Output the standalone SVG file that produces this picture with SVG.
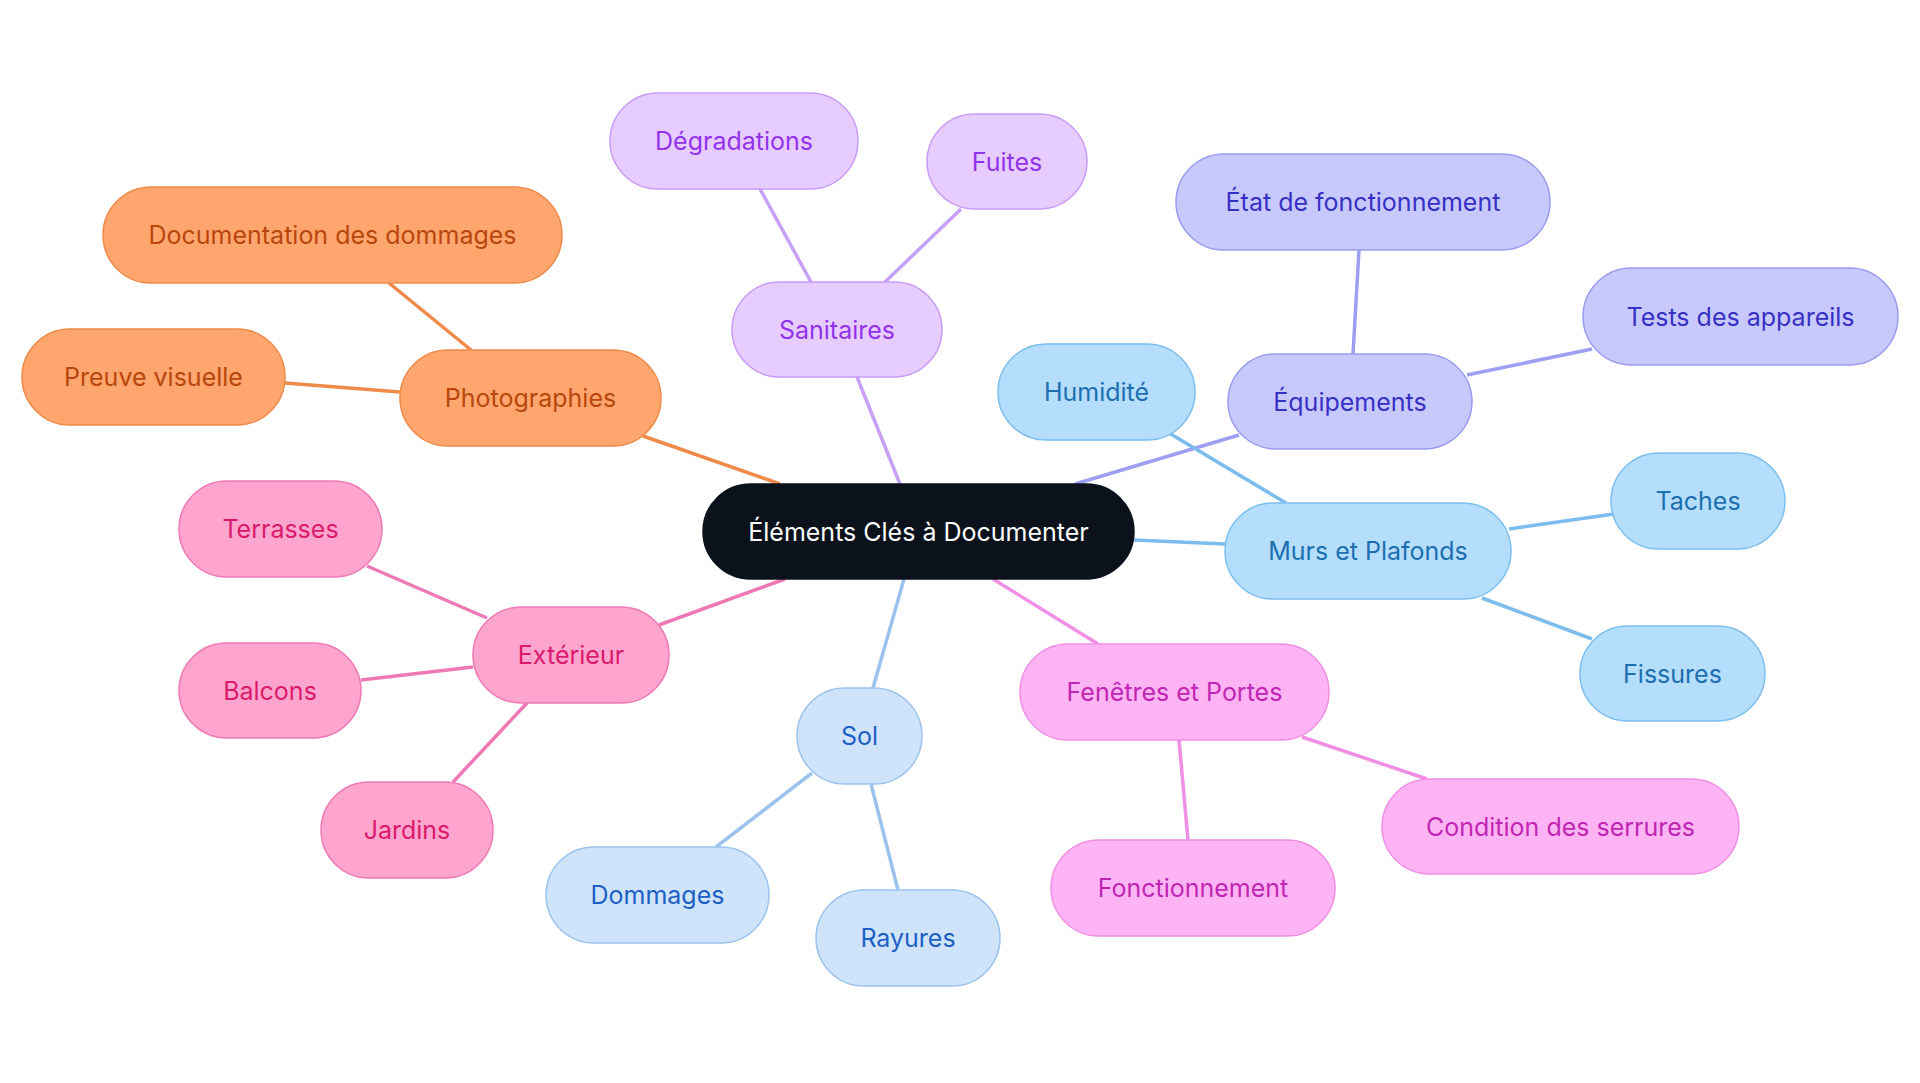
<svg xmlns="http://www.w3.org/2000/svg" width="1920" height="1083" viewBox="0 0 1920 1083">
<style>
text{font-family:Inter,"Noto Sans",sans-serif;font-size:25px;text-anchor:middle;dominant-baseline:central}
rect{stroke-width:1.5}
line{stroke-width:3.5}
.o rect{fill:#ffa66e;stroke:#ef8a49}.o text{fill:#b9470c}
.p rect{fill:#e6ccff;stroke:#c89cf8}.p text{fill:#9333ea}
.i rect{fill:#c7c9fd;stroke:#9a9cf0}.i text{fill:#3730c4}
.b rect{fill:#b4defc;stroke:#7cbfef}.b text{fill:#1d6fb0}
.s rect{fill:#cfe3fb;stroke:#9cc2ee}.s text{fill:#1d5fc4}
.f rect{fill:#feb4f4;stroke:#f08fe5}.f text{fill:#c026b3}
.e rect{fill:#fda4cf;stroke:#ee79b4}.e text{fill:#db1a6b}
</style>
<rect width="1920" height="1083" fill="#fff"/>
<g id="connectors">
<g stroke="#ef8a49"><line x1="780" y1="484" x2="643" y2="436"/><line x1="471" y1="350" x2="389" y2="283"/><line x1="400" y1="392" x2="285" y2="383"/></g>
<g stroke="#c7a0f7"><line x1="900" y1="484" x2="857" y2="377"/><line x1="811" y1="282" x2="760" y2="189"/><line x1="885" y1="282" x2="961" y2="209"/></g>
<g stroke="#9d9ff3"><line x1="1075" y1="484" x2="1239" y2="435"/><line x1="1353" y1="354" x2="1359" y2="250"/><line x1="1467" y1="375" x2="1592" y2="349"/></g>
<g stroke="#7cbdee"><line x1="1134" y1="540" x2="1225" y2="544"/><line x1="1286" y1="503" x2="1169" y2="433"/><line x1="1509" y1="529" x2="1614" y2="514"/><line x1="1482" y1="598" x2="1592" y2="639"/></g>
<g stroke="#f08fe5"><line x1="993" y1="579" x2="1098" y2="644"/><line x1="1302" y1="737" x2="1427" y2="779"/><line x1="1179" y1="740" x2="1188" y2="840"/></g>
<g stroke="#9cc2ee"><line x1="904" y1="579" x2="873" y2="688"/><line x1="812" y1="773" x2="716" y2="847"/><line x1="871" y1="784" x2="898" y2="890"/></g>
<g stroke="#ee79b4"><line x1="785" y1="579" x2="659" y2="625"/><line x1="487" y1="618" x2="367" y2="566"/><line x1="473" y1="667" x2="361" y2="680"/><line x1="527" y1="703" x2="453" y2="782"/></g>
</g>
<g id="center"><rect x="703" y="484" width="431" height="95" rx="47.5" fill="#0b121c" stroke="#0b121c"/><text x="918.5" y="531.5" fill="#fff">Éléments Clés à Documenter</text></g>
<g id="photographies" class="o"><rect x="400" y="350" width="261" height="96" rx="48"/><text x="530.5" y="398">Photographies</text></g>
<g id="documentation" class="o"><rect x="103" y="187" width="459" height="96" rx="48"/><text x="332.5" y="235">Documentation des dommages</text></g>
<g id="preuve" class="o"><rect x="22" y="329" width="263" height="96" rx="48"/><text x="153.5" y="377">Preuve visuelle</text></g>
<g id="sanitaires" class="p"><rect x="732" y="282" width="210" height="95" rx="47.5"/><text x="837" y="329.5">Sanitaires</text></g>
<g id="degradations" class="p"><rect x="610" y="93" width="248" height="96" rx="48"/><text x="734" y="141">Dégradations</text></g>
<g id="fuites" class="p"><rect x="927" y="114" width="160" height="95" rx="47.5"/><text x="1007" y="161.5">Fuites</text></g>
<g id="equipements" class="i"><rect x="1228" y="354" width="244" height="95" rx="47.5"/><text x="1350" y="401.5">Équipements</text></g>
<g id="etat" class="i"><rect x="1176" y="154" width="374" height="96" rx="48"/><text x="1363" y="202">État de fonctionnement</text></g>
<g id="tests" class="i"><rect x="1583" y="268" width="315" height="97" rx="48.5"/><text x="1740.5" y="316.5">Tests des appareils</text></g>
<g id="humidite" class="b"><rect x="998" y="344" width="197" height="96" rx="48"/><text x="1096.5" y="392">Humidité</text></g>
<g id="murs" class="b"><rect x="1225" y="503" width="286" height="96" rx="48"/><text x="1368" y="551">Murs et Plafonds</text></g>
<g id="taches" class="b"><rect x="1611" y="453" width="174" height="96" rx="48"/><text x="1698" y="501">Taches</text></g>
<g id="fissures" class="b"><rect x="1580" y="626" width="185" height="95" rx="47.5"/><text x="1672.5" y="673.5">Fissures</text></g>
<g id="fenetres" class="f"><rect x="1020" y="644" width="309" height="96" rx="48"/><text x="1174.5" y="692">Fenêtres et Portes</text></g>
<g id="serrures" class="f"><rect x="1382" y="779" width="357" height="95" rx="47.5"/><text x="1560.5" y="826.5">Condition des serrures</text></g>
<g id="fonctionnement" class="f"><rect x="1051" y="840" width="284" height="96" rx="48"/><text x="1193" y="888">Fonctionnement</text></g>
<g id="sol" class="s"><rect x="797" y="688" width="125" height="96" rx="48"/><text x="859.5" y="736">Sol</text></g>
<g id="dommages" class="s"><rect x="546" y="847" width="223" height="96" rx="48"/><text x="657.5" y="895">Dommages</text></g>
<g id="rayures" class="s"><rect x="816" y="890" width="184" height="96" rx="48"/><text x="908" y="938">Rayures</text></g>
<g id="exterieur" class="e"><rect x="473" y="607" width="196" height="96" rx="48"/><text x="571" y="655">Extérieur</text></g>
<g id="terrasses" class="e"><rect x="179" y="481" width="203" height="96" rx="48"/><text x="280.5" y="529">Terrasses</text></g>
<g id="balcons" class="e"><rect x="179" y="643" width="182" height="95" rx="47.5"/><text x="270" y="690.5">Balcons</text></g>
<g id="jardins" class="e"><rect x="321" y="782" width="172" height="96" rx="48"/><text x="407" y="830">Jardins</text></g>
</svg>
